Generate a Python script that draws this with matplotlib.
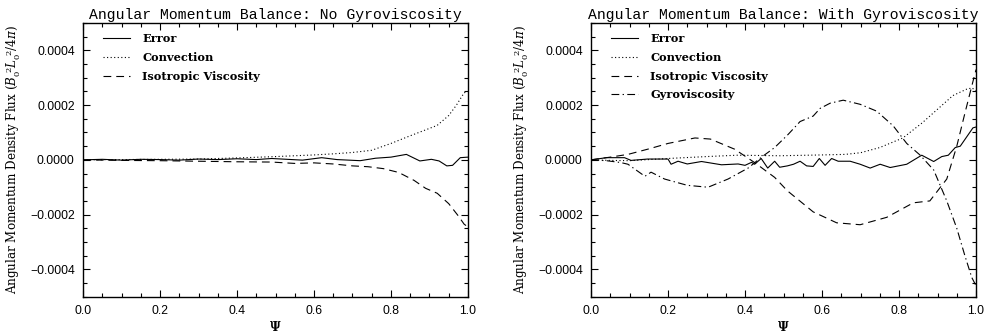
import matplotlib

matplotlib.use("Agg")
import matplotlib.pyplot as plt
from matplotlib.ticker import FuncFormatter, MultipleLocator

# --- data (Psi, flux) ---
left_err_x = [0, 0.05, 0.1, 0.15, 0.2, 0.25, 0.3, 0.35, 0.4, 0.45, 0.49, 0.57, 0.62,
              0.66, 0.72, 0.76, 0.8, 0.84, 0.875, 0.905, 0.925, 0.945, 0.96, 0.98, 1.0]
left_err = [0, 2e-6, -1e-6, 2e-6, 1e-6, -1e-6, 3e-6, 1e-6, 4e-6, 1e-6, 5e-6, -1e-6, 8e-6,
            1e-6, -3e-6, 6e-6, 1e-5, 2e-5, -4e-6, 2e-6, -4e-6, -2.2e-5, -2e-5, 8e-6, 1e-5]

left_conv_x = [0, 0.1, 0.2, 0.3, 0.4, 0.5, 0.6, 0.65, 0.7, 0.75, 0.8, 0.85, 0.9, 0.92,
               0.95, 0.97, 0.99, 1.0]
left_conv = [0, 1e-6, 2e-6, 3e-6, 7e-6, 1.2e-5, 1.8e-5, 2.2e-5, 2.7e-5, 3.5e-5, 6e-5,
             8.8e-5, 1.15e-4, 1.26e-4, 1.62e-4, 2e-4, 2.45e-4, 2.5e-4]

left_iso_x = [0, 0.1, 0.2, 0.3, 0.4, 0.49, 0.55, 0.6, 0.65, 0.7, 0.74, 0.78, 0.82, 0.86,
              0.89, 0.92, 0.95, 0.975, 0.99, 1.0]
left_iso = [0, -2e-6, -3e-6, -5e-6, -7e-6, -8e-6, -1.3e-5, -1.1e-5, -1.5e-5, -2.2e-5,
            -2.5e-5, -3.2e-5, -4.6e-5, -7.5e-5, -1.04e-4, -1.22e-4, -1.6e-4, -2.05e-4,
            -2.35e-4, -2.45e-4]

right_err_x = [0, 0.04, 0.087, 0.104, 0.147, 0.2, 0.208, 0.226, 0.25, 0.287, 0.339, 0.382,
               0.4, 0.417, 0.425, 0.442, 0.459, 0.477, 0.49, 0.51, 0.526, 0.543, 0.56,
               0.577, 0.593, 0.608, 0.625, 0.642, 0.673, 0.699, 0.725, 0.751, 0.777,
               0.82, 0.859, 0.89, 0.911, 0.928, 0.946, 0.959, 0.992, 1.0]
right_err = [0, 8e-6, 8e-6, -2e-6, 3e-6, 3e-6, -1.6e-5, -5e-6, -1.5e-5, -6e-6, -1.8e-5,
             -1.5e-5, -2e-5, -9e-6, -1.6e-5, 5e-6, -3e-5, -5e-6, -2.7e-5, -2.2e-5,
             -1.6e-5, -5e-6, -2.2e-5, -2.4e-5, 5e-6, -2e-5, 5e-6, -5e-6, -5e-6, -1.6e-5,
             -3e-5, -1.6e-5, -2.8e-5, -1.6e-5, 1.7e-5, -6e-6, 1.2e-5, 1.7e-5, 4.5e-5,
             5e-5, 1.17e-4, 1.2e-4]

right_conv_x = [0, 0.05, 0.1, 0.15, 0.2, 0.3, 0.38, 0.49, 0.6, 0.66, 0.7, 0.75, 0.81,
                0.86, 0.9, 0.94, 0.975, 0.99, 1.0]
right_conv = [0, -2e-6, -3e-6, 1e-6, 5e-6, 1.2e-5, 1.7e-5, 1.5e-5, 1.8e-5, 2e-5, 2.6e-5,
              4.5e-5, 8e-5, 1.35e-4, 1.85e-4, 2.35e-4, 2.58e-4, 2.63e-4, 2.5e-4]

right_iso_x = [0, 0.05, 0.096, 0.15, 0.2, 0.27, 0.31, 0.373, 0.425, 0.477, 0.51, 0.577,
               0.638, 0.699, 0.768, 0.837, 0.88, 0.924, 0.95, 0.971, 0.989, 1.0]
right_iso = [0, 1e-5, 2e-5, 4e-5, 6e-5, 8e-5, 7.6e-5, 3.9e-5, -1e-5, -6.4e-5, -1.13e-4,
             -1.9e-4, -2.3e-4, -2.37e-4, -2.1e-4, -1.57e-4, -1.5e-4, -7e-5, 5e-5, 1.7e-4,
             2.7e-4, 3.3e-4]

right_gyro_x = [0, 0.04, 0.078, 0.096, 0.14, 0.156, 0.191, 0.25, 0.304, 0.356, 0.408,
                0.442, 0.477, 0.512, 0.543, 0.577, 0.595, 0.621, 0.655, 0.699, 0.742,
                0.785, 0.82, 0.855, 0.89, 0.924, 0.95, 0.971, 0.989, 1.0]
right_gyro = [0, -3e-6, -1e-5, -1.6e-5, -6e-5, -4.5e-5, -7e-5, -9.3e-5, -1e-4, -7e-5,
              -3e-5, 9e-6, 4.5e-5, 9.3e-5, 1.4e-4, 1.6e-4, 1.88e-4, 2.07e-4, 2.18e-4,
              2.03e-4, 1.78e-4, 1.24e-4, 6e-5, 1.7e-5, -3.7e-5, -1.5e-4, -2.5e-4, -3.5e-4,
              -4.3e-4, -4.6e-4]

titles = ["Angular Momentum Balance: No Gyroviscosity",
          "Angular Momentum Balance: With Gyroviscosity"]
ylab = r"Angular Momentum Density Flux ($B_0^{\ 2}L_0^{\ 2}/4\pi$)"

plt.rcParams["mathtext.fontset"] = "dejavuserif"

STY = {
    "Error": dict(linestyle="-"),
    "Convection": dict(linestyle=(0, (1, 2.2))),
    "Isotropic Viscosity": dict(linestyle=(0, (7, 4.5))),
    "Gyroviscosity": dict(linestyle=(0, (7, 3, 1.2, 3))),
}


def fmt_y(v, _):
    s = f"{abs(v):.4f}"
    return ("\u2212" + s) if v < -1e-12 else s


def setup(ax, title):
    ax.set_xlim(0, 1)
    ax.set_ylim(-0.0005, 0.0005)
    ax.xaxis.set_major_locator(MultipleLocator(0.2))
    ax.xaxis.set_minor_locator(MultipleLocator(0.05))
    ax.yaxis.set_major_locator(MultipleLocator(0.0002))
    ax.yaxis.set_minor_locator(MultipleLocator(0.00005))
    ax.xaxis.set_major_formatter(FuncFormatter(lambda v, _: f"{v:.1f}"))
    ax.yaxis.set_major_formatter(FuncFormatter(fmt_y))
    ax.tick_params(which="both", direction="in", top=True, right=True, width=0.8)
    ax.tick_params(which="major", length=5, labelsize=8.8, pad=6)
    ax.tick_params(which="minor", length=3)
    for lab in ax.get_xticklabels() + ax.get_yticklabels():
        lab.set_family("Liberation Sans")
    for sp in ax.spines.values():
        sp.set_linewidth(1.0)
    ax.set_title(title, family="Liberation Mono", fontsize=10.6, pad=3)
    ax.set_xlabel(r"$\mathbf{\Psi}$", fontsize=8.5, labelpad=2)
    ax.set_ylabel(ylab, family="DejaVu Serif", fontsize=8.6, labelpad=5)


fig = plt.figure(figsize=(9.85, 3.35), dpi=100)
ax1 = fig.add_axes([0.0843, 0.1143, 0.3908, 0.817])
ax2 = fig.add_axes([0.600, 0.1143, 0.3909, 0.817])

for ax, series in [
    (ax1, [("Error", left_err_x, left_err), ("Convection", left_conv_x, left_conv),
           ("Isotropic Viscosity", left_iso_x, left_iso)]),
    (ax2, [("Error", right_err_x, right_err), ("Convection", right_conv_x, right_conv),
           ("Isotropic Viscosity", right_iso_x, right_iso),
           ("Gyroviscosity", right_gyro_x, right_gyro)]),
]:
    for name, xs, ys in series:
        ax.plot(xs, ys, color="black", lw=0.8, label=name, **STY[name])
    leg = ax.legend(loc="upper left", frameon=False, handlelength=2.4, handletextpad=1.05,
                    labelspacing=0.68, borderaxespad=0.0, borderpad=0.0,
                    bbox_to_anchor=(0.052, 0.963),
                    prop={"family": "DejaVu Serif", "weight": "bold", "size": 8.2})

setup(ax1, titles[0])
setup(ax2, titles[1])

fig.savefig("out.png", dpi=100)
